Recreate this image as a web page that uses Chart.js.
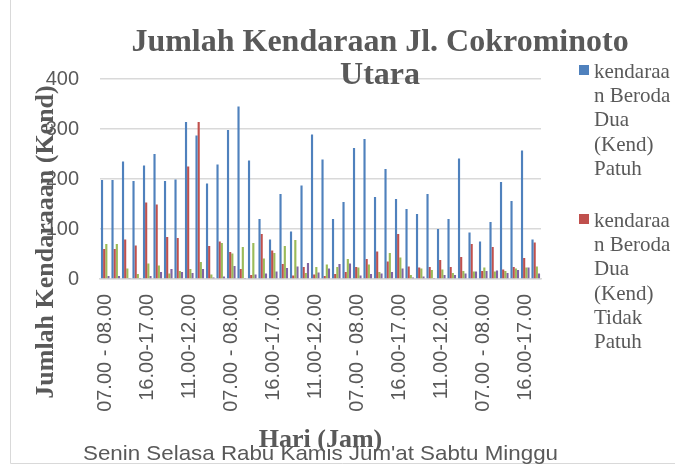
<!DOCTYPE html>
<html>
<head>
<meta charset="utf-8">
<script src="https://cdn.jsdelivr.net/npm/chart.js@4.4.1/dist/chart.umd.min.js"></script>
<style>
html,body{margin:0;padding:0;background:#fff;}
canvas{display:block;}
</style>
</head>
<body>
<canvas id="c" width="675" height="466"></canvas>
<script>
const days = ['Senin', 'Selasa', 'Rabu', 'Kamis', "Jum'at", 'Sabtu', 'Minggu'];
const timeSlots = ['07.00 - 08.00', '08.00 - 09.00', '11.00-12.00', '12.00-13.00', '16.00-17.00', '17.00-18.00'];
const yTicks = [0, 100, 200, 300, 400];
const seriesNames = [
  'kendaraan Beroda Dua (Kend) Patuh',
  'kendaraan Beroda Dua (Kend) Tidak Patuh',
  'kendaraan Beroda Empat (Kend) Patuh',
  'kendaraan Beroda Empat (Kend) Tidak Patuh'
];
const duaPatuh = [198,198,235,196,227,250,196,199,314,287,191,229,298,345,237,120,79,170,95,187,289,239,120,154,262,280,164,220,160,140,130,170,100,120,241,93,75,114,194,156,257,79];
const duaTidakPatuh = [60,60,79,67,153,149,84,82,225,314,66,75,54,20,8,90,57,30,7,24,9,6,10,14,24,40,55,35,90,25,23,24,38,24,44,70,16,64,19,24,42,73];
const empatPatuh = [70,70,21,10,31,27,11,16,20,34,9,72,51,64,72,41,52,66,78,12,24,29,24,40,23,29,14,52,43,8,21,18,19,12,16,15,23,15,16,21,23,25];
const empatTidakPatuh = [6,6,2,2,6,14,20,14,12,20,3,5,26,2,9,11,15,22,25,32,13,21,30,31,7,10,11,14,21,3,5,2,8,8,11,15,16,17,12,18,23,11];
const titleLines = ['Jumlah Kendaraan Jl. Cokrominoto', 'Utara'];
const yTitle = 'Jumlah Kendaraaan (Kend)';
const xTitle = 'Hari (Jam)';

const categories = [];
days.forEach(() => timeSlots.forEach(s => categories.push(s)));

const colors = ['#4F81BD', '#C0504D', '#9BBB59', '#8064A2'];
const seriesValues = [duaPatuh, duaTidakPatuh, empatPatuh, empatTidakPatuh];
const TEXT = '#595959';

const decorPlugin = {
  id: 'decor',
  afterDraw(chart) {
    const ctx = chart.ctx;
    const area = chart.chartArea;
    ctx.save();
    // outer border (left & bottom visible)
    ctx.strokeStyle = '#d9d9d9';
    ctx.lineWidth = 1;
    ctx.beginPath();
    ctx.moveTo(10.5, 0);
    ctx.lineTo(10.5, 463.5);
    ctx.lineTo(675, 463.5);
    ctx.stroke();

    ctx.fillStyle = TEXT;
    // title
    ctx.font = 'bold 32px "Liberation Serif", "Times New Roman", serif';
    ctx.textAlign = 'center';
    ctx.textBaseline = 'alphabetic';
    ctx.fillText(titleLines[0], 380, 51);
    ctx.fillText(titleLines[1], 380, 84);

    // y axis title
    ctx.save();
    ctx.font = 'bold 26px "Liberation Serif", "Times New Roman", serif';
    ctx.translate(53, 242);
    ctx.rotate(-Math.PI / 2);
    ctx.fillText(yTitle, 0, 0);
    ctx.restore();

    // x axis title
    ctx.font = 'bold 26px "Liberation Serif", "Times New Roman", serif';
    ctx.fillText(xTitle, (area.left + area.right) / 2, 447);

    // day names row (tall, condensed glyphs like the original)
    const dayStr = days.join(' ');
    ctx.font = '21px "Liberation Sans", Arial, sans-serif';
    const w = ctx.measureText(dayStr).width;
    const sx = 475 / w;
    ctx.save();
    ctx.translate((area.left + area.right) / 2, 460);
    ctx.scale(sx, 1);
    ctx.fillText(dayStr, 0, 0);
    ctx.restore();

    // legend (first two entries; rest cut off as in reference)
    ctx.textAlign = 'left';
    ctx.font = '21px "Liberation Serif", "Times New Roman", serif';
    const lineH = 24.2;
    const textX = 594;
    const maxW = 675 - textX;
    let y = 78;
    for (let i = 0; i < 2; i++) {
      const lines = wrap(ctx, seriesNames[i], maxW);
      ctx.fillStyle = colors[i];
      ctx.fillRect(579, y - 13, 10, 10);
      ctx.fillStyle = TEXT;
      lines.forEach((ln, k) => ctx.fillText(ln, textX, y + k * lineH));
      y += lines.length * lineH + 28;
    }
    ctx.restore();
  }
};

function wrap(ctx, text, maxW) {
  const words = text.split(' ');
  const lines = [];
  let cur = '';
  words.forEach(word => {
    const trial = cur ? cur + ' ' + word : word;
    if (ctx.measureText(trial).width <= maxW) { cur = trial; return; }
    if (cur) { lines.push(cur); cur = ''; }
    let piece = '';
    for (const ch of word) {
      if (ctx.measureText(piece + ch).width > maxW && piece) { lines.push(piece); piece = ch; }
      else piece += ch;
    }
    cur = piece;
  });
  if (cur) lines.push(cur);
  return lines;
}

new Chart(document.getElementById('c'), {
  type: 'bar',
  data: {
    labels: categories,
    datasets: seriesValues.map((vals, i) => ({
      label: seriesNames[i],
      data: vals,
      backgroundColor: colors[i],
      borderWidth: 0,
      categoryPercentage: 0.82,
      barPercentage: 1.0
    }))
  },
  options: {
    responsive: false,
    animation: false,
    layout: { padding: { top: 79, left: 0, right: 134, bottom: 0 } },
    plugins: {
      legend: { display: false },
      title: { display: false },
      tooltip: { enabled: false }
    },
    scales: {
      x: {
        grid: { display: false, drawTicks: false },
        border: { display: true, color: '#d9d9d9', width: 1.5 },
        ticks: {
          autoSkip: false,
          minRotation: 90,
          maxRotation: 90,
          padding: 15,
          color: TEXT,
          font: { family: '"Liberation Sans", Arial, sans-serif', size: 20 },
          callback: function (v, i) { return i % 4 === 0 ? categories[i] : ''; }
        },
        afterFit(scale) { scale.height = 187; }
      },
      y: {
        min: yTicks[0],
        max: yTicks[yTicks.length - 1],
        grid: { color: '#d9d9d9', lineWidth: 1.5, drawTicks: false },
        border: { display: false },
        ticks: {
          stepSize: yTicks[1] - yTicks[0],
          padding: 21,
          color: TEXT,
          font: { family: '"Liberation Sans", Arial, sans-serif', size: 20 }
        },
        afterFit(scale) { scale.width = 100; }
      }
    }
  },
  plugins: [decorPlugin]
});
</script>
</body>
</html>
